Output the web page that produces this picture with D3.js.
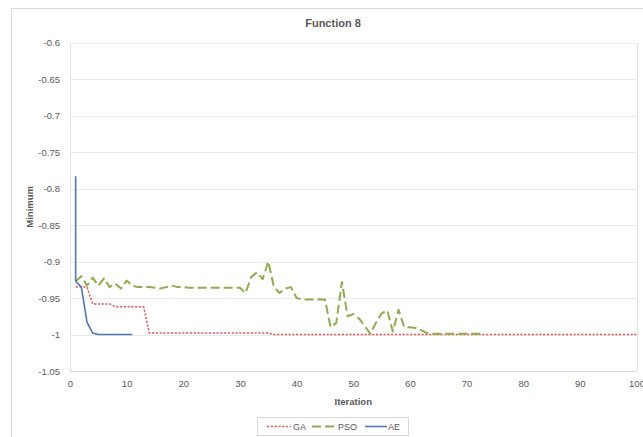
<!DOCTYPE html>
<html>
<head>
<meta charset="utf-8">
<script src="https://cdn.jsdelivr.net/npm/d3@7"></script>
<style>
  html, body { margin: 0; padding: 0; background: #fff; }
  svg { display: block; font-family: "Liberation Sans", "DejaVu Sans", sans-serif; }
</style>
</head>
<body>
<svg id="chart" width="643" height="437"></svg>
<script>
// Convergence of three optimisers on benchmark function 8
const title = "Function 8";
const xTicks = [0, 10, 20, 30, 40, 50, 60, 70, 80, 90, 100];
const yTicks = [-0.6, -0.65, -0.7, -0.75, -0.8, -0.85, -0.9, -0.95, -1, -1.05];

// GA: best value per iteration 1..100
const gaValues = [
  -0.935, -0.935, -0.935, -0.958, -0.958, -0.958, -0.958, -0.962, -0.962, -0.962,
  -0.962, -0.962, -0.962, -0.998, -0.998, -0.998, -0.998, -0.998, -0.998, -0.998,
  -0.998, -0.998, -0.998, -0.998, -0.998, -0.998, -0.998, -0.998, -0.998, -0.998,
  -0.998, -0.998, -0.998, -0.998, -0.998, -1, -1, -1, -1, -1,
  -1, -1, -1, -1, -1, -1, -1, -1, -1, -1,
  -1, -1, -1, -1, -1, -1, -1, -1, -1, -1,
  -1, -1, -1, -1, -1, -1, -1, -1, -1, -1,
  -1, -1, -1, -1, -1, -1, -1, -1, -1, -1,
  -1, -1, -1, -1, -1, -1, -1, -1, -1, -1,
  -1, -1, -1, -1, -1, -1, -1, -1, -1, -1
];

// PSO: value per iteration 1..73
const psoValues = [
  -0.927, -0.920, -0.933, -0.922, -0.933, -0.923, -0.935, -0.930, -0.937, -0.926,
  -0.933, -0.935, -0.935, -0.935, -0.936, -0.937, -0.935, -0.933, -0.935, -0.935,
  -0.936, -0.936, -0.936, -0.936, -0.936, -0.936, -0.936, -0.936, -0.936, -0.936,
  -0.943, -0.921, -0.915, -0.924, -0.900, -0.935, -0.943, -0.937, -0.935, -0.950,
  -0.952, -0.952, -0.952, -0.952, -0.952, -0.990, -0.984, -0.928, -0.975, -0.972,
  -0.978, -0.988, -0.999, -0.984, -0.971, -0.967, -0.996, -0.966, -0.990, -0.990,
  -0.991, -0.994, -0.998, -0.999, -0.999, -0.999, -0.999, -0.999, -0.999, -0.999,
  -0.999, -0.999, -0.999
];

// AE: iterations and values (two readings at iteration 1)
const aeIters = [1, 1, 2, 3, 4, 5, 6, 7, 8, 9, 10, 11];
const aeValues = [-0.783, -0.927, -0.935, -0.983, -0.998, -1, -1, -1, -1, -1, -1, -1];

const series = [
  { name: "GA", color: "#e0575a", width: 1.5, dash: "2.2,1.6",
    points: gaValues.map((v, i) => [i + 1, v]) },
  { name: "PSO", color: "#8fac4f", width: 2, dash: "9,4",
    points: psoValues.map((v, i) => [i + 1, v]) },
  { name: "AE", color: "#4f77b0", width: 1.6, dash: null,
    points: aeIters.map((it, i) => [it, aeValues[i]]) }
];

const svg = d3.select("#chart");
const W = 643, H = 437;
const plot = { left: 70, right: 636.5, top: 42.7, bottom: 371 };

// chart area frame
svg.append("rect")
  .attr("x", 11.5).attr("y", 8.5)
  .attr("width", 700).attr("height", 500)
  .attr("fill", "#fff").attr("stroke", "#d9d9d9").attr("stroke-width", 1);

const x = d3.scaleLinear().domain([0, 100]).range([plot.left, plot.right]);
const y = d3.scaleLinear().domain([-1.05, -0.6]).range([plot.bottom, plot.top]);

// horizontal gridlines
svg.append("g")
  .selectAll("line")
  .data(yTicks)
  .join("line")
  .attr("x1", plot.left).attr("x2", plot.right)
  .attr("y1", d => Math.round(y(d)) + 0.5).attr("y2", d => Math.round(y(d)) + 0.5)
  .attr("stroke", d => d === -1.05 ? "#d9d9d9" : "#ebebeb")
  .attr("stroke-width", 1);

// plot-area side lines
svg.append("line")
  .attr("x1", Math.round(plot.left) + 0.5).attr("x2", Math.round(plot.left) + 0.5)
  .attr("y1", plot.top).attr("y2", plot.bottom)
  .attr("stroke", "#e3e3e3");
svg.append("line")
  .attr("x1", Math.round(plot.right) + 0.5).attr("x2", Math.round(plot.right) + 0.5)
  .attr("y1", plot.top).attr("y2", plot.bottom)
  .attr("stroke", "#e3e3e3");

// y axis labels
const yAxis = d3.axisLeft(y).tickValues(yTicks).tickSize(0).tickPadding(10)
  .tickFormat(d => String(+d.toFixed(2)));
const gy = svg.append("g").attr("transform", `translate(${plot.left},0)`).call(yAxis);
gy.select(".domain").remove();
gy.selectAll("text").attr("fill", "#595959").attr("font-size", 9.5);

// x axis labels
const xAxis = d3.axisBottom(x).tickValues(xTicks).tickSize(0).tickPadding(9)
  .tickFormat(d3.format("d"));
const gx = svg.append("g").attr("transform", `translate(0,${plot.bottom})`).call(xAxis);
gx.select(".domain").remove();
gx.selectAll("text").attr("fill", "#595959").attr("font-size", 9.5);

// series lines
const line = d3.line().x(d => x(d[0])).y(d => y(d[1]));
svg.append("g")
  .selectAll("path")
  .data(series)
  .join("path")
  .attr("d", d => line(d.points))
  .attr("fill", "none")
  .attr("stroke", d => d.color)
  .attr("stroke-width", d => d.width)
  .attr("stroke-dasharray", d => d.dash)
  .attr("stroke-linejoin", "round");

// title and axis titles
svg.append("text")
  .attr("x", 333).attr("y", 27)
  .attr("text-anchor", "middle")
  .attr("font-size", 11).attr("font-weight", "bold").attr("fill", "#595959")
  .text(title);

svg.append("text")
  .attr("x", (plot.left + plot.right) / 2).attr("y", 405)
  .attr("text-anchor", "middle")
  .attr("font-size", 9.5).attr("font-weight", "bold").attr("fill", "#595959")
  .text("Iteration");

svg.append("text")
  .attr("transform", `translate(33,${(plot.top + plot.bottom) / 2}) rotate(-90)`)
  .attr("text-anchor", "middle")
  .attr("font-size", 9.5).attr("font-weight", "bold").attr("fill", "#595959")
  .text("Minimum");

// legend
const legend = svg.append("g");
legend.append("rect")
  .attr("x", 257.5).attr("y", 417.5).attr("width", 151).attr("height", 18)
  .attr("fill", "#fff").attr("stroke", "#d9d9d9");
const legendItems = [
  { s: series[0], x0: 267, x1: 291, tx: 293 },
  { s: series[1], x0: 312, x1: 337, tx: 338 },
  { s: series[2], x0: 365, x1: 387, tx: 388 }
];
legendItems.forEach(it => {
  legend.append("line")
    .attr("x1", it.x0).attr("x2", it.x1).attr("y1", 426.5).attr("y2", 426.5)
    .attr("stroke", it.s.color).attr("stroke-width", it.s.width)
    .attr("stroke-dasharray", it.s.dash);
  legend.append("text")
    .attr("x", it.tx).attr("y", 430)
    .attr("font-size", 9).attr("fill", "#595959")
    .text(it.s.name);
});
</script>
</body>
</html>
